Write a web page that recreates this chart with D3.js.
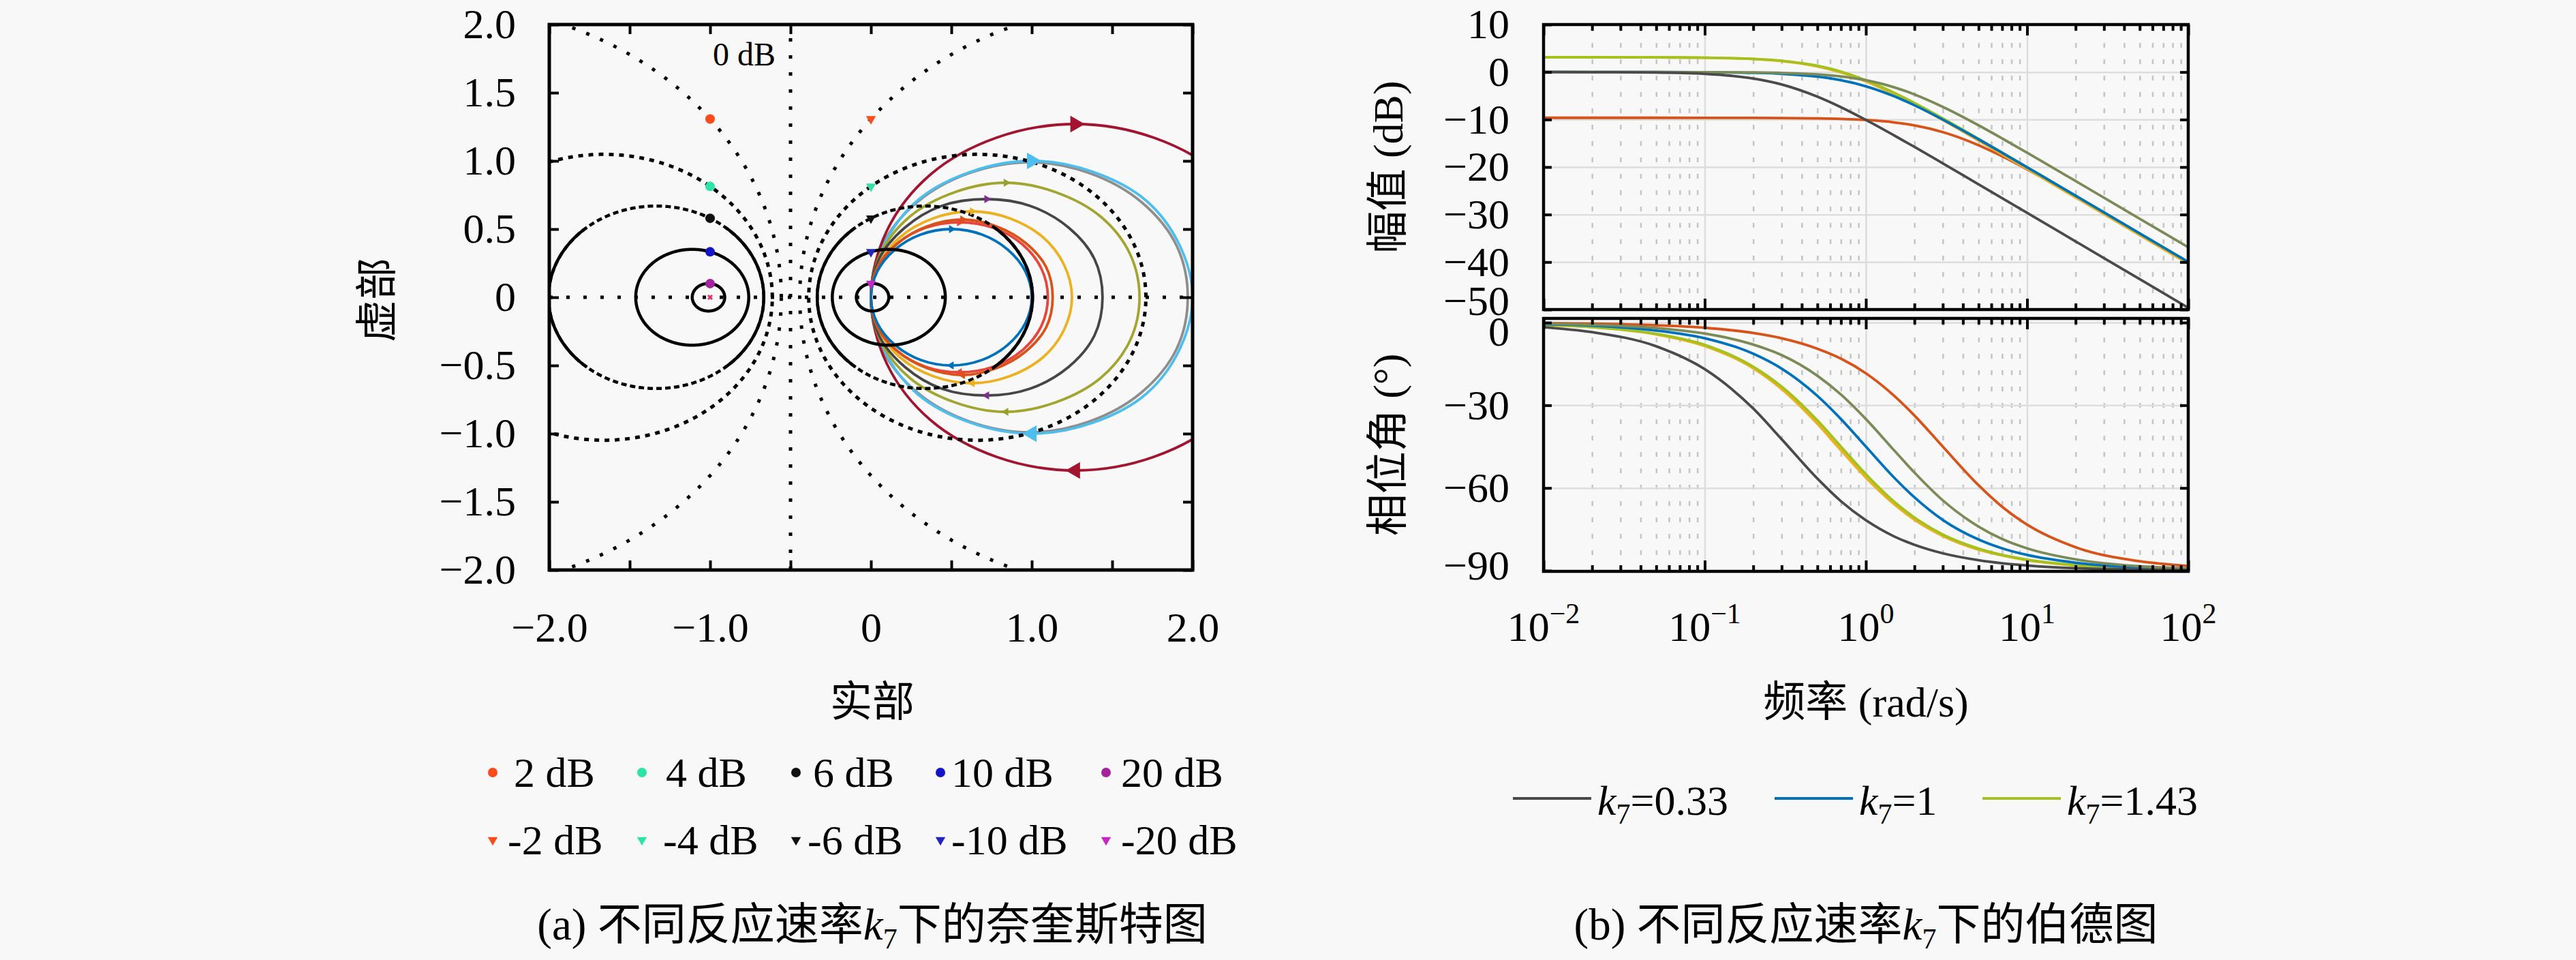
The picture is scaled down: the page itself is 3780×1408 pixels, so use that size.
<!DOCTYPE html>
<html lang="zh">
<head>
<meta charset="UTF-8">
<title>奈奎斯特图与伯德图</title>
<script src="https://d3js.org/d3.v7.min.js"></script>
<style>
  body { margin: 0; background: #f8f8f8; }
  svg { display: block; }
</style>
</head>
<body>
<div id="chart"></div>
<script>
// ---------------- data ----------------
// Nyquist axes
const nyqTicks = [-2, -1.5, -1, -0.5, 0, 0.5, 1, 1.5, 2];
const nyqXLabels = ["−2.0", "", "−1.0", "", "0", "", "1.0", "", "2.0"];
const nyqYLabels = ["−2.0", "−1.5", "−1.0", "−0.5", "0", "0.5", "1.0", "1.5", "2.0"];

// constant closed-loop magnitude circles (dB)
const mPosDb = [2, 4, 6, 10, 20];
const mNegDb = [-2, -4, -6, -10, -20];

// Nyquist curves, lower half (re, im), omega 0 -> inf
const nyqK100 = [[1.00, 0], [0.96, -0.19], [0.85, -0.35], [0.69, -0.46], [0.50, -0.50], [0.31, -0.46], [0.15, -0.35], [0.04, -0.19], [0, 0]];
const nyqK110 = [[1.10, 0], [1.06, -0.21], [0.94, -0.39], [0.76, -0.51], [0.55, -0.55], [0.34, -0.51], [0.16, -0.39], [0.04, -0.21], [0, 0]];
const nyqK113 = [[1.13, 0], [1.09, -0.22], [0.96, -0.40], [0.78, -0.52], [0.57, -0.57], [0.35, -0.52], [0.17, -0.40], [0.04, -0.22], [0, 0]];
const nyqK125 = [[1.25, 0], [1.20, -0.24], [1.07, -0.44], [0.86, -0.58], [0.63, -0.63], [0.39, -0.58], [0.18, -0.44], [0.05, -0.24], [0, 0]];
const nyqK144 = [[1.44, 0], [1.39, -0.28], [1.23, -0.51], [0.99, -0.67], [0.72, -0.72], [0.44, -0.67], [0.21, -0.51], [0.05, -0.28], [0, 0]];
const nyqK167 = [[1.67, 0], [1.61, -0.32], [1.43, -0.59], [1.15, -0.77], [0.84, -0.84], [0.52, -0.77], [0.24, -0.59], [0.06, -0.32], [0, 0]];
const nyqK197 = [[1.97, 0], [1.90, -0.38], [1.68, -0.70], [1.36, -0.91], [0.99, -0.99], [0.61, -0.91], [0.29, -0.70], [0.07, -0.38], [0, 0]];
const nyqK200 = [[2.00, 0], [1.92, -0.38], [1.71, -0.71], [1.38, -0.92], [1.00, -1.00], [0.62, -0.92], [0.29, -0.71], [0.08, -0.38], [0, 0]];
const nyqK254 = [[2.54, 0], [2.44, -0.49], [2.17, -0.90], [1.76, -1.17], [1.27, -1.27], [0.78, -1.17], [0.37, -0.90], [0.10, -0.49], [0, 0]];

// Bode
const bodeFreq = [0.01, 0.02, 0.05, 0.1, 0.2, 0.3, 0.5, 0.7, 1, 1.5, 2, 3, 5, 7, 10, 20, 50, 100];
const magGray   = [0, -0.02, -0.10, -0.38, -1.36, -2.61, -5.18, -7.40, -10.08, -13.36, -15.76, -19.22, -23.63, -26.54, -29.63, -35.65, -43.61, -49.63];
const magBlue   = [0, 0, -0.01, -0.04, -0.17, -0.37, -0.97, -1.73, -3.01, -5.12, -6.99, -10.0, -14.15, -16.99, -20.04, -26.03, -33.98, -40.0];
const magGreen  = [3.11, 3.11, 3.09, 3.02, 2.77, 2.38, 1.32, 0.10, -1.72, -4.37, -6.51, -9.76, -14.05, -16.93, -20.01, -26.01, -33.97, -39.99];
const magYellow = [3.11, 3.11, 3.09, 3.01, 2.74, 2.32, 1.19, -0.09, -1.98, -4.68, -6.85, -10.12, -14.43, -17.31, -20.39, -26.39, -34.35, -40.37];
const magOlive  = [0, 0, -0.01, -0.02, -0.08, -0.19, -0.50, -0.93, -1.73, -3.22, -4.71, -7.33, -11.21, -13.97, -16.98, -22.94, -30.88, -36.89];
const magOrange = [-9.63, -9.63, -9.63, -9.64, -9.65, -9.67, -9.75, -9.86, -10.09, -10.60, -11.23, -12.64, -15.40, -17.72, -20.46, -26.20, -34.08, -40.09];
const phGray    = [-1.7, -3.5, -8.6, -16.9, -31.2, -42.3, -56.6, -64.8, -71.7, -77.6, -80.6, -83.7, -86.2, -87.3, -88.1, -89.1, -89.6, -89.8];
const phBlue    = [-0.6, -1.1, -2.9, -5.7, -11.3, -16.7, -26.6, -35.0, -45.0, -56.3, -63.4, -71.6, -78.7, -81.9, -84.3, -87.1, -88.9, -89.4];
const phGreen   = [-0.8, -1.6, -4.1, -8.1, -16.0, -23.2, -35.5, -45.0, -55.0, -65.0, -70.7, -76.9, -82.0, -84.3, -86.0, -88.0, -89.2, -89.6];
const phYellow  = [-0.9, -1.7, -4.3, -8.5, -16.6, -24.1, -36.7, -46.3, -56.2, -65.9, -71.5, -77.4, -82.4, -84.5, -86.2, -88.1, -89.2, -89.6];
const phOlive   = [-0.4, -0.8, -2.0, -4.0, -8.0, -11.8, -19.3, -26.1, -35.0, -46.4, -54.4, -64.5, -74.0, -78.5, -81.9, -85.9, -88.4, -89.2];
const phOrange  = [-0.2, -0.4, -1.0, -1.9, -3.8, -5.7, -9.5, -13.1, -18.4, -26.6, -33.7, -45.0, -59.0, -66.8, -73.3, -81.5, -86.6, -88.3];

const magTicks = [10, 0, -10, -20, -30, -40, -50];
const magTickLabels = ["10", "0", "−10", "−20", "−30", "−40", "−50"];
const phaseTicks = [0, -30, -60, -90];
const phaseTickLabels = ["0", "−30", "−60", "−90"];
const decades = [0.01, 0.1, 1, 10, 100];
const decadeExp = ["−2", "−1", "0", "1", "2"];
const kLabels = ["0.33", "1", "1.43"];

// ---------------- setup ----------------
const W = 3780, H = 1408;
const FF = "'Liberation Serif', 'Noto Sans CJK SC', serif";
const FS = 62;

const svg = d3.select("#chart").append("svg")
    .attr("width", W).attr("height", H)
    .style("font-family", FF);
svg.append("rect").attr("width", W).attr("height", H).attr("fill", "#f8f8f8");
const defs = svg.append("defs");

function clip(id, x0, y0, x1, y1) {
    defs.append("clipPath").attr("id", id).append("rect")
        .attr("x", x0).attr("y", y0).attr("width", x1 - x0).attr("height", y1 - y0);
}
function tidy(g, w) {
    g.select(".domain").remove();
    g.attr("font-family", FF).attr("font-size", FS);
    g.selectAll(".tick line").attr("stroke", "#000").attr("stroke-width", w);
    g.selectAll(".tick text").attr("fill", "#000");
    return g;
}

// ---------------- Nyquist ----------------
const nq = { left: 806, right: 1750, top: 36, bottom: 836 };
const xN = d3.scaleLinear().domain([-2, 2]).range([nq.left, nq.right]);
const yN = d3.scaleLinear().domain([-2, 2]).range([nq.bottom, nq.top]);
clip("clipN", nq.left, nq.top, nq.right, nq.bottom);
const gN = svg.append("g").attr("clip-path", "url(#clipN)");

// curves (full closed loop: lower half + mirrored upper half)
const nyqCurves = [
    { pts: nyqK197, color: "#8e8e8e", arrow: null },
    { pts: nyqK200, color: "#4dbeee", arrow: "#4dbeee", big: true },
    { pts: nyqK254, color: "#a2142f", arrow: "#a2142f", big: true },
    { pts: nyqK167, color: "#a2a530", arrow: "#9aa030" },
    { pts: nyqK144, color: "#464646", arrow: "#7e2f8e" },
    { pts: nyqK125, color: "#edb120", arrow: "#edb120" },
    { pts: nyqK110, color: "#e8453c", arrow: "#e8453c" },
    { pts: nyqK113, color: "#d95319", arrow: "#d95319" },
    { pts: nyqK100, color: "#0072bd", arrow: "#0072bd" }
];
const nyqLine = d3.line().x(d => xN(d[0])).y(d => yN(d[1]))
    .curve(d3.curveCatmullRomClosed.alpha(0.5));
nyqCurves.forEach(c => {
    const full = c.pts.concat(c.pts.slice(1, -1).reverse().map(p => [p[0], -p[1]]));
    gN.append("path").attr("d", nyqLine(full))
        .attr("fill", "none").attr("stroke", c.color).attr("stroke-width", 3.8);
});

// M circles
function mCircle(db) {
    const M = Math.pow(10, db / 20), M2 = M * M;
    return { cx: -M2 / (M2 - 1), r: M / Math.abs(M2 - 1) };
}
function circlePts(c, a0, a1) {
    return d3.range(a0, a1 + 0.001, 1).map(a => {
        const t = a * Math.PI / 180;
        return [c.cx + c.r * Math.cos(t), c.r * Math.sin(t)];
    });
}
const plain = d3.line().x(d => xN(d[0])).y(d => yN(d[1]));
mPosDb.concat(mNegDb).forEach(db => {
    const c = mCircle(db), a = Math.abs(db);
    const p = gN.append("path").attr("d", plain(circlePts(c, 0, 360)))
        .attr("fill", "none").attr("stroke", "#000");
    if (a === 2) p.attr("stroke-width", 5).attr("stroke-dasharray", "5,17");
    else if (a === 4) p.attr("stroke-width", 5).attr("stroke-dasharray", "7,8");
    else if (a === 6) {
        p.attr("stroke-width", 4.5).attr("stroke-dasharray", "8,5");
        [[-50, 50], [130, 230]].forEach(([s, e]) =>
            gN.append("path").attr("d", plain(circlePts(c, s, e)))
                .attr("fill", "none").attr("stroke", "#000").attr("stroke-width", 4.5));
    } else p.attr("stroke-width", 4.5);
});

// 0 dB line and real axis
gN.append("line").attr("x1", xN(-0.5)).attr("x2", xN(-0.5)).attr("y1", yN(-2)).attr("y2", yN(2))
    .attr("stroke", "#000").attr("stroke-width", 5).attr("stroke-dasharray", "5,20");
gN.append("line").attr("x1", xN(-2)).attr("x2", xN(2)).attr("y1", yN(0)).attr("y2", yN(0))
    .attr("stroke", "#000").attr("stroke-width", 5).attr("stroke-dasharray", "5,20");
svg.append("text").attr("x", xN(-0.5) - 22).attr("y", yN(1.7))
    .attr("text-anchor", "end").attr("font-size", 48).text("0 dB");

// arrows
nyqCurves.filter(c => c.arrow).forEach(c => {
    const size = c.big ? 260 : 60;
    const top = c.pts[4];
    gN.append("path").attr("d", d3.symbol(d3.symbolTriangle, size)())
        .attr("transform", `translate(${xN(top[0])},${yN(-top[1])}) rotate(90)`)
        .attr("fill", c.arrow);
    gN.append("path").attr("d", d3.symbol(d3.symbolTriangle, size)())
        .attr("transform", `translate(${xN(top[0])},${yN(top[1])}) rotate(-90)`)
        .attr("fill", c.arrow);
});

// markers on the circles
const posColors = ["#ff4a1c", "#2fe3a8", "#111111", "#1414c8", "#a3239e"];
const negColors = ["#ff4a1c", "#2fe3a8", "#111111", "#2323c0", "#c526c5"];
mPosDb.forEach((db, i) => {
    const c = mCircle(db);
    const yv = Math.sqrt(c.r * c.r - (-1 - c.cx) * (-1 - c.cx));
    svg.append("circle").attr("cx", xN(-1)).attr("cy", yN(yv)).attr("r", 7).attr("fill", posColors[i]);
});
mNegDb.forEach((db, i) => {
    const c = mCircle(db);
    const yv = Math.sqrt(c.r * c.r - c.cx * c.cx);
    svg.append("path").attr("d", d3.symbol(d3.symbolTriangle, 90)())
        .attr("transform", `translate(${xN(0)},${yN(yv)}) rotate(180)`).attr("fill", negColors[i]);
});
svg.append("path").attr("d", d3.symbol(d3.symbolCross, 40)())
    .attr("transform", `translate(${xN(-1)},${yN(0)}) rotate(45)`).attr("fill", "#e0306a");

// axes
tidy(svg.append("g").attr("transform", `translate(0,${nq.bottom})`)
    .call(d3.axisBottom(xN).tickValues(nyqTicks).tickSize(-14).tickSizeOuter(0).tickPadding(61)
        .tickFormat((d, i) => nyqXLabels[i])), 4);
tidy(svg.append("g").attr("transform", `translate(${nq.left},0)`)
    .call(d3.axisLeft(yN).tickValues(nyqTicks).tickSize(-14).tickSizeOuter(0).tickPadding(49)
        .tickFormat((d, i) => nyqYLabels[i])), 4);
tidy(svg.append("g").attr("transform", `translate(0,${nq.top})`)
    .call(d3.axisTop(xN).tickValues(nyqTicks).tickSize(-14).tickSizeOuter(0).tickFormat("")), 4);
tidy(svg.append("g").attr("transform", `translate(${nq.right},0)`)
    .call(d3.axisRight(yN).tickValues(nyqTicks).tickSize(-14).tickSizeOuter(0).tickFormat("")), 4);
svg.append("rect").attr("x", nq.left).attr("y", nq.top)
    .attr("width", nq.right - nq.left).attr("height", nq.bottom - nq.top)
    .attr("fill", "none").attr("stroke", "#000").attr("stroke-width", 5);

svg.append("text").attr("x", 1280).attr("y", 1051).attr("text-anchor", "middle")
    .attr("font-size", FS).text("实部");
svg.append("text").attr("transform", "translate(575,440) rotate(-90)").attr("text-anchor", "middle")
    .attr("font-size", FS).text("虚部");

// Nyquist legend
const markX = [723, 942, 1168, 1380, 1623];
const txtX1 = [754, 977, 1193, 1396, 1645];
const txtX2 = [745, 973, 1185, 1396, 1645];
mPosDb.forEach((db, i) => {
    svg.append("circle").attr("cx", markX[i]).attr("cy", 1133).attr("r", 7).attr("fill", posColors[i]);
    svg.append("text").attr("x", txtX1[i]).attr("y", 1154).attr("font-size", FS).text(`${db} dB`);
});
mNegDb.forEach((db, i) => {
    svg.append("path").attr("d", d3.symbol(d3.symbolTriangle, 90)())
        .attr("transform", `translate(${markX[i]},1232) rotate(180)`).attr("fill", negColors[i]);
    svg.append("text").attr("x", txtX2[i]).attr("y", 1253).attr("font-size", FS).text(`${db} dB`);
});

function kText(sel, prefix, suffix) {
    if (prefix) sel.append("tspan").text(prefix);
    sel.append("tspan").attr("font-style", "italic").text("k");
    sel.append("tspan").attr("font-size", 42).attr("dy", 13).text("7");
    sel.append("tspan").attr("dy", -13).text(suffix);
}
kText(svg.append("text").attr("x", 1280).attr("y", 1378).attr("text-anchor", "middle").attr("font-size", 65),
    "(a) 不同反应速率", "下的奈奎斯特图");

// ---------------- Bode ----------------
const bd = { left: 2265, right: 3211 };
const magBox = { top: 36, bottom: 454 };
const phBox = { top: 467, bottom: 838 };
const xB = d3.scaleLog().domain([0.01, 100]).range([bd.left, bd.right]);
const yMag = d3.scaleLinear().domain([-50, 10]).range([magBox.bottom, magBox.top]);
const yPh = d3.scaleLinear().domain([-90.25, 1.5]).range([phBox.bottom, phBox.top]);
const minor = [];
decades.slice(0, -1).forEach(d => d3.range(2, 10).forEach(k => minor.push(d * k)));

const bodeSeries = [
    { mag: magOrange, ph: phOrange, color: "#d95319" },
    { mag: magYellow, ph: phYellow, color: "#edb120" },
    { mag: magGreen,  ph: phGreen,  color: "#a3c21f" },
    { mag: magBlue,   ph: phBlue,   color: "#0072bd" },
    { mag: magOlive,  ph: phOlive,  color: "#7b8b58" },
    { mag: magGray,   ph: phGray,   color: "#4a4a4a" }
];

// labels at the panel joints sit slightly away from their ticks
const labelShift = { "mag:-50": -12, "ph:0": 14, "ph:-90": -7 };

function bodePanel(box, yS, ticks, labels, key, cid) {
    const h = box.bottom - box.top, w = bd.right - bd.left;
    clip(cid, bd.left, box.top, bd.right, box.bottom);
    // grid
    const gg = svg.append("g");
    gg.append("g").attr("transform", `translate(0,${box.bottom})`)
        .call(d3.axisBottom(xB).tickValues(minor).tickSize(-h).tickFormat(""))
        .call(g => g.select(".domain").remove())
        .selectAll("line").attr("stroke", "#c4c4c4").attr("stroke-width", 2.5).attr("stroke-dasharray", "7,17");
    gg.append("g").attr("transform", `translate(0,${box.bottom})`)
        .call(d3.axisBottom(xB).tickValues(decades).tickSize(-h).tickFormat(""))
        .call(g => g.select(".domain").remove())
        .selectAll("line").attr("stroke", "#dddddd").attr("stroke-width", 2.5);
    gg.append("g").attr("transform", `translate(${bd.left},0)`)
        .call(d3.axisLeft(yS).tickValues(ticks).tickSize(-w).tickFormat(""))
        .call(g => g.select(".domain").remove())
        .selectAll("line").attr("stroke", "#dddddd").attr("stroke-width", 2.5);
    // curves
    const gc = svg.append("g").attr("clip-path", `url(#${cid})`);
    const line = d3.line().x((d, i) => xB(bodeFreq[i])).y(d => yS(d)).curve(d3.curveMonotoneX);
    bodeSeries.forEach(s => gc.append("path").attr("d", line(s[key]))
        .attr("fill", "none").attr("stroke", s.color).attr("stroke-width", 3.8));
    // ticks
    [[d3.axisBottom, box.bottom], [d3.axisTop, box.top]].forEach(([ax, y]) => {
        tidy(svg.append("g").attr("transform", `translate(0,${y})`)
            .call(ax(xB).tickValues(minor).tickSize(-9).tickSizeOuter(0).tickFormat("")), 4);
        tidy(svg.append("g").attr("transform", `translate(0,${y})`)
            .call(ax(xB).tickValues(decades).tickSize(-16).tickSizeOuter(0).tickFormat("")), 4);
    });
    tidy(svg.append("g").attr("transform", `translate(${bd.left},0)`)
        .call(d3.axisLeft(yS).tickValues(ticks).tickSize(-12).tickSizeOuter(0).tickPadding(50)
            .tickFormat((d, i) => labels[i])), 4)
        .selectAll(".tick text")
        .attr("transform", d => labelShift[key + ":" + d] ? `translate(0,${labelShift[key + ":" + d]})` : null);
    tidy(svg.append("g").attr("transform", `translate(${bd.right},0)`)
        .call(d3.axisRight(yS).tickValues(ticks).tickSize(-12).tickSizeOuter(0).tickFormat("")), 4);
    svg.append("rect").attr("x", bd.left).attr("y", box.top).attr("width", w).attr("height", h)
        .attr("fill", "none").attr("stroke", "#000").attr("stroke-width", 4.5);
}
bodePanel(magBox, yMag, magTicks, magTickLabels, "mag", "clipMag");
bodePanel(phBox, yPh, phaseTicks, phaseTickLabels, "ph", "clipPh");

// decade labels
svg.append("g").selectAll("text").data(decades).join("text")
    .attr("x", d => xB(d)).attr("y", 940).attr("text-anchor", "middle").attr("font-size", FS)
    .each(function (d, i) {
        const t = d3.select(this);
        t.append("tspan").text("10");
        t.append("tspan").attr("font-size", 42).attr("dy", -26).text(decadeExp[i]);
    });

svg.append("text").attr("x", 2738).attr("y", 1051).attr("text-anchor", "middle")
    .attr("font-size", FS).text("频率 (rad/s)");
svg.append("text").attr("transform", `translate(2058,${(magBox.top + magBox.bottom) / 2}) rotate(-90)`)
    .attr("text-anchor", "middle").attr("font-size", FS).text("幅值 (dB)");
svg.append("text").attr("transform", `translate(2058,${(phBox.top + phBox.bottom) / 2}) rotate(-90)`)
    .attr("text-anchor", "middle").attr("font-size", FS).text("相位角 (°)");

// Bode legend
const legColors = ["#4a4a4a", "#0072bd", "#a3c21f"];
const legLineX = [2220, 2604, 2909];
kLabels.forEach((k, i) => {
    svg.append("line").attr("x1", legLineX[i]).attr("x2", legLineX[i] + 115)
        .attr("y1", 1171).attr("y2", 1171).attr("stroke", legColors[i]).attr("stroke-width", 4);
    kText(svg.append("text").attr("x", legLineX[i] + 124).attr("y", 1195).attr("font-size", FS), "", "=" + k);
});

kText(svg.append("text").attr("x", 2738).attr("y", 1378).attr("text-anchor", "middle").attr("font-size", 65),
    "(b) 不同反应速率", "下的伯德图");
</script>
</body>
</html>
